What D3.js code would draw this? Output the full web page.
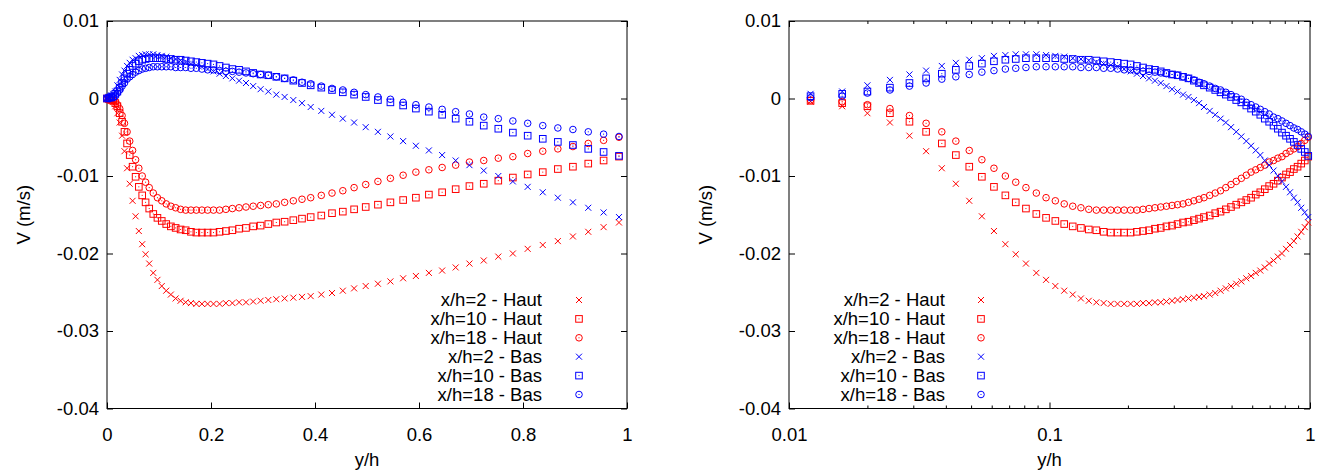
<!DOCTYPE html>
<html><head><meta charset="utf-8">
<script src="https://cdn.jsdelivr.net/npm/d3@7"></script>
<style>
body{margin:0;background:#fff}
text{font-family:"Liberation Sans",Arial,Helvetica,sans-serif;font-size:18.5px;fill:#000}
</style>
</head><body>
<svg id="chart" width="1325" height="470"></svg>
<script>
// ---- data (y/h grid and V values in m/s) ----
const yh = [0, 0.004, 0.008,
 0.0121, 0.0160, 0.0200, 0.0244, 0.0290, 0.0336, 0.0386, 0.0437, 0.0492, 0.0550, 0.0612, 0.0677, 0.0742, 0.0812,
 0.0890, 0.0970, 0.1053, 0.1139, 0.1228, 0.1320, 0.1415, 0.1513, 0.1614, 0.1718, 0.1825, 0.1935, 0.2048, 0.2165, 0.2286, 0.2411, 0.2540, 0.2673, 0.2811, 0.2954, 0.3102, 0.3256, 0.3416, 0.3583, 0.3750,
 0.3917, 0.4121, 0.4327, 0.4535, 0.4752, 0.4975, 0.5210, 0.5450, 0.5695, 0.5940, 0.6190, 0.6445, 0.6705, 0.6970, 0.7245, 0.7525, 0.7805, 0.8090, 0.8380, 0.8670, 0.8960, 0.9255, 0.9550, 0.9846];

const vHaut2 = [0, -0.0001, -0.0002,
 -0.0004, -0.0010, -0.0019, -0.0031, -0.0048, -0.0068, -0.0090, -0.0110, -0.0132, -0.0152, -0.0171, -0.0188, -0.0201, -0.0213,
 -0.0225, -0.0234, -0.0242, -0.0248, -0.0253, -0.0258, -0.0261, -0.0263, -0.0264, -0.0265, -0.0265, -0.0265, -0.0265, -0.0265, -0.0264, -0.0264, -0.0263, -0.0263, -0.0262, -0.0261, -0.0260, -0.0259, -0.0258, -0.0257, -0.0256,
 -0.0255, -0.0253, -0.0251, -0.0248, -0.0245, -0.0242, -0.0239, -0.0236, -0.0232, -0.0229, -0.0225, -0.0222, -0.0218, -0.0213, -0.0209, -0.0204, -0.0200, -0.0194, -0.0189, -0.0184, -0.0178, -0.0172, -0.0166, -0.0160];

const vHaut10 = [0, -0.0001, -0.0002,
 -0.0003, -0.0006, -0.0010, -0.0019, -0.0030, -0.0043, -0.0058, -0.0073, -0.0088, -0.0101, -0.0114, -0.0125, -0.0134, -0.0142,
 -0.0149, -0.0154, -0.0158, -0.0162, -0.0165, -0.0167, -0.0169, -0.0170, -0.0172, -0.0173, -0.0173, -0.0173, -0.0173, -0.0172, -0.0171, -0.0170, -0.0168, -0.0167, -0.0165, -0.0164, -0.0162, -0.0160, -0.0159, -0.0157, -0.0155,
 -0.0153, -0.0151, -0.0148, -0.0146, -0.0143, -0.0140, -0.0137, -0.0134, -0.0131, -0.0128, -0.0124, -0.0121, -0.0117, -0.0113, -0.0110, -0.0106, -0.0102, -0.0098, -0.0095, -0.0091, -0.0088, -0.0084, -0.0080, -0.0075];

const vHaut18 = [0, 0, -0.0001,
 -0.0002, -0.0004, -0.0008, -0.0013, -0.0022, -0.0032, -0.0043, -0.0055, -0.0067, -0.0079, -0.0090, -0.0100, -0.0108, -0.0115,
 -0.0122, -0.0128, -0.0132, -0.0136, -0.0139, -0.0141, -0.0143, -0.0144, -0.0144, -0.0144, -0.0144, -0.0144, -0.0144, -0.0144, -0.0143, -0.0142, -0.0141, -0.0140, -0.0139, -0.0138, -0.0137, -0.0136, -0.0134, -0.0132, -0.0130,
 -0.0128, -0.0125, -0.0122, -0.0119, -0.0115, -0.0111, -0.0107, -0.0103, -0.0099, -0.0095, -0.0092, -0.0089, -0.0086, -0.0082, -0.0080, -0.0077, -0.0075, -0.0071, -0.0068, -0.0065, -0.0062, -0.0058, -0.0054, -0.0050];

const vBas2 = [0, 0.0002, 0.0004,
 0.0006, 0.0009, 0.0017, 0.0024, 0.0031, 0.0036, 0.0042, 0.0046, 0.0050, 0.0052, 0.0055, 0.0056, 0.0057, 0.0057,
 0.0057, 0.0056, 0.0055, 0.0054, 0.0052, 0.0051, 0.0049, 0.0047, 0.0045, 0.0043, 0.0041, 0.0038, 0.0035, 0.0032, 0.0029, 0.0026, 0.0023, 0.0020, 0.0016, 0.0012, 0.0009, 0.0005, 0.0002, -0.0002, -0.0006,
 -0.0011, -0.0016, -0.0021, -0.0026, -0.0031, -0.0037, -0.0043, -0.0049, -0.0055, -0.0061, -0.0067, -0.0073, -0.0080, -0.0086, -0.0093, -0.0100, -0.0107, -0.0114, -0.0121, -0.0128, -0.0134, -0.0141, -0.0147, -0.0153];

const vBas10 = [0, 0.0001, 0.0002,
 0.0003, 0.0006, 0.0009, 0.0014, 0.0020, 0.0026, 0.0032, 0.0037, 0.0042, 0.0045, 0.0048, 0.0050, 0.0051, 0.0052,
 0.0052, 0.0052, 0.0052, 0.0051, 0.0051, 0.0050, 0.0050, 0.0049, 0.0048, 0.0047, 0.0046, 0.0045, 0.0044, 0.0042, 0.0040, 0.0038, 0.0037, 0.0035, 0.0033, 0.0031, 0.0030, 0.0028, 0.0026, 0.0023, 0.0020,
 0.0017, 0.0014, 0.0011, 0.0008, 0.0005, 0.0002, -0.0002, -0.0005, -0.0009, -0.0013, -0.0017, -0.0021, -0.0026, -0.0030, -0.0035, -0.0039, -0.0044, -0.0048, -0.0052, -0.0056, -0.0060, -0.0065, -0.0069, -0.0074];

const vBas18 = [0, 0, 0.0001,
 0.0001, 0.0003, 0.0007, 0.0011, 0.0016, 0.0020, 0.0025, 0.0028, 0.0031, 0.0034, 0.0036, 0.0038, 0.0039, 0.0040,
 0.0041, 0.0041, 0.0041, 0.0041, 0.0041, 0.0040, 0.0040, 0.0040, 0.0039, 0.0039, 0.0038, 0.0037, 0.0037, 0.0036, 0.0035, 0.0035, 0.0034, 0.0033, 0.0032, 0.0031, 0.0030, 0.0028, 0.0026, 0.0024, 0.0021,
 0.0019, 0.0016, 0.0013, 0.0011, 0.0008, 0.0005, 0.0002, -0.0001, -0.0005, -0.0008, -0.0011, -0.0014, -0.0017, -0.0020, -0.0024, -0.0026, -0.0029, -0.0032, -0.0035, -0.0038, -0.0040, -0.0043, -0.0046, -0.0049];

const seriesNames = ["x/h=2 - Haut", "x/h=10 - Haut", "x/h=18 - Haut", "x/h=2 - Bas", "x/h=10 - Bas", "x/h=18 - Bas"];
const seriesValues = [vHaut2, vHaut10, vHaut18, vBas2, vBas10, vBas18];
const yTickValues = [0.01, 0, -0.01, -0.02, -0.03, -0.04];
const yTickLabels = ["0.01", "0", "-0.01", "-0.02", "-0.03", "-0.04"];
const xTickLin = [0, 0.2, 0.4, 0.6, 0.8, 1];
const xTickLinLabels = ["0", "0.2", "0.4", "0.6", "0.8", "1"];
const xTickLog = [0.01, 0.1, 1];
const xTickLogLabels = ["0.01", "0.1", "1"];
const xLabel = "y/h";
const yLabel = "V (m/s)";

// ---- styles ----
const colors = ["#ff0000", "#ff0000", "#ff0000", "#0000ff", "#0000ff", "#0000ff"];
const shapes = ["cross", "square", "circle", "cross", "square", "circle"];
const FS = "18.5px";

const svg = d3.select("#chart");
const TOP = 21, BOTTOM = 408.5;
const yScale = d3.scaleLinear().domain([-0.04, 0.01]).range([BOTTOM, TOP]);

function marker(g, shape, cx, cy, color) {
  if (shape === "cross") {
    const s = 3;
    g.append("path").attr("d", `M${cx - s},${cy - s}L${cx + s},${cy + s}M${cx - s},${cy + s}L${cx + s},${cy - s}`)
      .attr("stroke", color).attr("stroke-width", 1).attr("fill", "none");
  } else if (shape === "square") {
    const s = 3.3;
    g.append("rect").attr("x", cx - s).attr("y", cy - s).attr("width", 2 * s).attr("height", 2 * s)
      .attr("stroke", color).attr("stroke-width", 1).attr("fill", "none");
    g.append("rect").attr("x", cx - 0.5).attr("y", cy - 0.5).attr("width", 1).attr("height", 1).attr("fill", color);
  } else {
    g.append("circle").attr("cx", cx).attr("cy", cy).attr("r", 3.3)
      .attr("stroke", color).attr("stroke-width", 1).attr("fill", "none");
    g.append("rect").attr("x", cx - 0.5).attr("y", cy - 0.5).attr("width", 1).attr("height", 1).attr("fill", color);
  }
}

function panel(opt) {
  const g = svg.append("g");
  const x = opt.x;
  const [L, R] = x.range();

  // frame
  g.append("rect").attr("x", L).attr("y", TOP).attr("width", R - L).attr("height", BOTTOM - TOP)
    .attr("fill", "none").attr("stroke", "#000").attr("stroke-width", 1);

  // x axes (bottom + mirrored top), inward ticks
  const xb = d3.axisBottom(x).tickValues(opt.xTicks).tickFormat((d, i) => opt.xLabels[i])
    .tickSizeInner(-6).tickSizeOuter(0).tickPadding(19);
  const ab = g.append("g").attr("transform", `translate(0,${BOTTOM})`).call(xb);
  ab.select(".domain").remove();
  ab.selectAll("text").style("font-size", FS).attr("fill", "#000");
  const xt = d3.axisTop(x).tickValues(opt.xTicks).tickFormat("").tickSizeInner(-6).tickSizeOuter(0);
  const at = g.append("g").attr("transform", `translate(0,${TOP})`).call(xt);
  at.select(".domain").remove();

  if (opt.minor) {
    const mb = d3.axisBottom(x).tickValues(opt.minor).tickFormat("").tickSizeInner(-3).tickSizeOuter(0);
    g.append("g").attr("transform", `translate(0,${BOTTOM})`).call(mb).select(".domain").remove();
    const mt = d3.axisTop(x).tickValues(opt.minor).tickFormat("").tickSizeInner(-3).tickSizeOuter(0);
    g.append("g").attr("transform", `translate(0,${TOP})`).call(mt).select(".domain").remove();
  }

  // y axes (left + mirrored right)
  const yl = d3.axisLeft(yScale).tickValues(yTickValues).tickFormat((d, i) => yTickLabels[i])
    .tickSizeInner(-6).tickSizeOuter(0).tickPadding(8);
  const al = g.append("g").attr("transform", `translate(${L},0)`).call(yl);
  al.select(".domain").remove();
  al.selectAll("text").style("font-size", FS).attr("fill", "#000");
  const yr = d3.axisRight(yScale).tickValues(yTickValues).tickFormat("").tickSizeInner(-6).tickSizeOuter(0);
  g.append("g").attr("transform", `translate(${R},0)`).call(yr).select(".domain").remove();

  g.selectAll(".tick line").attr("stroke", "#000");
  g.selectAll(".tick text").attr("font-family", "Liberation Sans, Arial, sans-serif");

  // labels
  g.append("text").attr("x", (L + R) / 2).attr("y", 466).attr("text-anchor", "middle").text(xLabel);
  g.append("text").attr("transform", `translate(${opt.ylabX},${(TOP + BOTTOM) / 2}) rotate(-90)`)
    .attr("text-anchor", "middle").attr("dy", "0.35em").text(yLabel);

  // data points
  const pts = g.append("g");
  seriesValues.forEach((vals, si) => {
    vals.forEach((v, i) => {
      const xv = yh[i];
      if (opt.log && xv < 0.01) return;
      marker(pts, shapes[si], x(xv), yScale(v), colors[si]);
    });
  });

  // legend
  const lg = g.append("g");
  seriesNames.forEach((name, si) => {
    const cy = 300 + si * 18.9;
    lg.append("text").attr("x", opt.legText).attr("y", cy).attr("dy", "0.35em")
      .attr("text-anchor", "end").text(name);
    marker(lg, shapes[si], opt.legMark, cy, colors[si]);
  });
}

const xLin = d3.scaleLinear().domain([0, 1]).range([107, 627]);
const xLog = d3.scaleLog().domain([0.01, 1]).range([789, 1310]);
const minorLog = [0.02,0.03,0.04,0.05,0.06,0.07,0.08,0.09,0.2,0.3,0.4,0.5,0.6,0.7,0.8,0.9];

panel({x: xLin, xTicks: xTickLin, xLabels: xTickLinLabels, log: false, ylabX: 24, legText: 542, legMark: 579});
panel({x: xLog, xTicks: xTickLog, xLabels: xTickLogLabels, log: true, minor: minorLog, ylabX: 706, legText: 945, legMark: 981});
</script>
</body></html>
